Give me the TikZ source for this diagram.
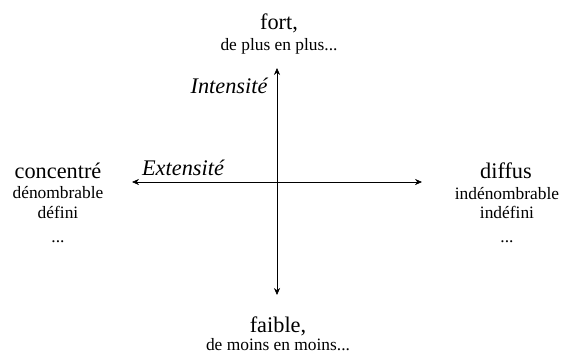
\documentclass[tikz,border=0pt]{standalone}
\usepackage{fontspec}
\setmainfont{Liberation Serif}
\newfontfamily\timesfont{Liberation Serif}
\usepackage{tikz}
\usetikzlibrary{arrows.meta, positioning}

\tikzset{
    big/.style={font=\timesfont\fontsize{12.7}{15}\selectfont, inner sep=0pt, anchor=base},
    bigit/.style={big, font=\timesfont\fontsize{12.7}{15}\selectfont\itshape},
    small/.style={font=\timesfont\fontsize{9.9}{12}\selectfont, inner sep=0pt, anchor=base},
    axis/.style={{Stealth[length=4pt, width=3.5pt]}-{Stealth[length=4pt, width=3.5pt]}, thin}
}

\begin{document}
\begin{tikzpicture}[x=0.02cm, y=-0.02cm]
        \useasboundingbox (0, 0) rectangle (562, 352);

        \coordinate (up) at (277, 68);
        \coordinate (down) at (277, 295);
        \coordinate (left) at (132, 182);
        \coordinate (right) at (422, 182);

        \draw[axis] (up) to (down);
        \draw[axis] (left) to (right);

        \node[big] at (279, 29) (fort) {fort,};
        \node[small] at (279, 50) (plus) {de plus en plus...};
        \node[bigit] at (229, 93) (intens) {Intensité};

        \node[big] at (58, 178) (conc) {concentré};
        \node[small] at (58, 198) (denom) {dénombrable};
        \node[small] at (58, 218) (defini) {défini};
        \node[small] at (58, 242) (etc1) {...};
        \node[bigit] at (183, 175) (extens) {Extensité};

        \node[big] at (506, 178) (diffus) {diffus};
        \node[small] at (507, 199) (indenom) {indénombrable};
        \node[small] at (507, 218) (indefini) {indéfini};
        \node[small] at (507, 242) (etc2) {...};

        \node[big] at (278, 332) (faible) {faible,};
        \node[small] at (278, 350) (moins) {de moins en moins...};
    \end{tikzpicture}
\end{document}
